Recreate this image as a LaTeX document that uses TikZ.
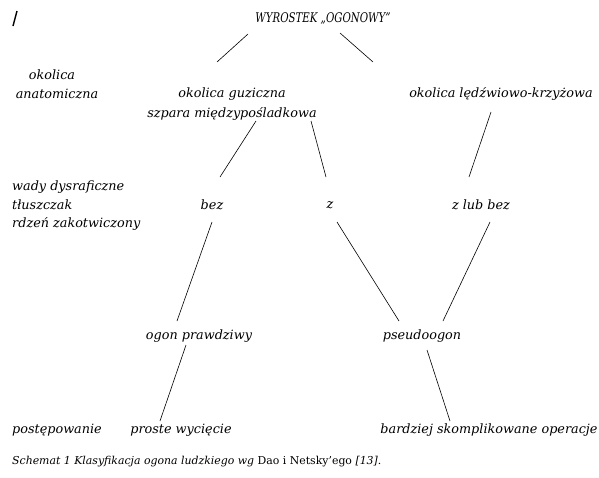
\documentclass[tikz,border=0pt]{standalone}
\usepackage{fontspec}
\usepackage{graphicx}
\setmainfont{DejaVu Serif}
\begin{document}
\begin{tikzpicture}[x=1pt,y=-1pt,
  lbl/.style={font=\fontsize{12.8}{14}\selectfont\itshape, inner sep=0pt},
  lft/.style={lbl, anchor=west},
  conn/.style={line width=0.6pt}]
\useasboundingbox (0,0) rectangle (599,477);
% slash mark
\coordinate (s1) at (13,26); \coordinate (s2) at (17,11);
\draw[line width=1.4pt] (s1) -- (s2);
% nodes
\node[lbl, font=\fontsize{10.2}{12}\selectfont\itshape] (root) at (323,18) {\scalebox{1}[1.3]{WYROSTEK „OGONOWY”}};
\node[lbl] (okl1) at (52,75) {okolica};
\node[lbl] (okl2) at (57,94) {anatomiczna};
\node[lbl] (guz1) at (232,94) {okolica guziczna};
\node[lbl] (guz2) at (232,114) {szpara międzypośladkowa};
\node[lbl] (ledz) at (501,94) {okolica lędźwiowo-krzyżowa};
\node[lft] (wad) at (12,187) {wady dysraficzne};
\node[lft] (tlu) at (12,205) {tłuszczak};
\node[lft] (rdz) at (12,224) {rdzeń zakotwiczony};
\node[lbl] (bez) at (212,205) {bez};
\node[lbl] (z) at (330,205) {z};
\node[lbl] (zlub) at (481,205) {z lub bez};
\node[lbl] (ogon) at (199,336) {ogon prawdziwy};
\node[lbl] (pseudo) at (422,336) {pseudoogon};
\node[lft] (post) at (12,430) {postępowanie};
\node[lbl] (prost) at (181,430) {proste wycięcie};
\node[lbl] (bard) at (489,430) {bardziej skomplikowane operacje};
\node[lft, font=\fontsize{10.9}{13}\selectfont\itshape] (cap) at (12,462) {Schemat 1 Klasyfikacja ogona ludzkiego wg {\upshape Dao i Netsky’ego} [13].};
% connector end points
\coordinate (a1) at (248,34); \coordinate (a2) at (217,62);
\coordinate (b1) at (340,33); \coordinate (b2) at (373,62);
\coordinate (c1) at (256,121); \coordinate (c2) at (220,177);
\coordinate (d1) at (311,121); \coordinate (d2) at (326,177);
\coordinate (e1) at (491,112); \coordinate (e2) at (469,177);
\coordinate (f1) at (212,222); \coordinate (f2) at (177,321);
\coordinate (g1) at (337,222); \coordinate (g2) at (399,321);
\coordinate (h1) at (490,222); \coordinate (h2) at (443,321);
\coordinate (i1) at (186,345); \coordinate (i2) at (160,421);
\coordinate (j1) at (427,350); \coordinate (j2) at (450,421);
\draw[conn] (a1) -- (a2);
\draw[conn] (b1) -- (b2);
\draw[conn] (c1) -- (c2);
\draw[conn] (d1) -- (d2);
\draw[conn] (e1) -- (e2);
\draw[conn] (f1) -- (f2);
\draw[conn] (g1) -- (g2);
\draw[conn] (h1) -- (h2);
\draw[conn] (i1) -- (i2);
\draw[conn] (j1) -- (j2);
\end{tikzpicture}
\end{document}
